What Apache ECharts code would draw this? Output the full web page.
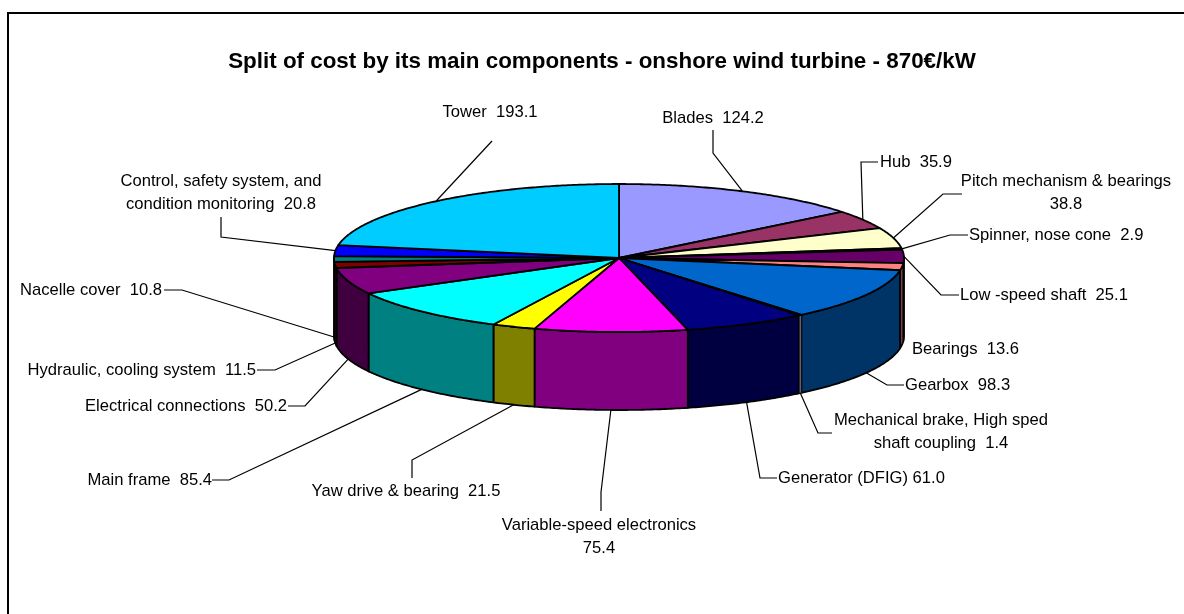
<!DOCTYPE html>
<html>
<head>
<meta charset="utf-8">
<script src="https://cdn.jsdelivr.net/npm/echarts@6/dist/echarts.min.js"></script>
<style>html,body{margin:0;padding:0;background:#fff}#c{width:1184px;height:614px}</style>
</head>
<body>
<div id="c"></div>
<script>
// ---- data ----
const titleText = 'Split of cost by its main components - onshore wind turbine - 870€/kW';
const names = ['Blades','Hub','Pitch mechanism & bearings','Spinner, nose cone','Low -speed shaft','Bearings','Gearbox','Mechanical brake, High sped\nshaft coupling','Generator (DFIG)','Variable-speed electronics','Yaw drive & bearing','Main frame','Electrical connections','Hydraulic, cooling system','Nacelle cover','Control, safety system, and\ncondition monitoring','Tower'];
const values = [124.2,35.9,38.8,2.9,25.1,13.6,98.3,1.4,61.0,75.4,21.5,85.4,50.2,11.5,10.8,20.8,193.1];
const separators = ['  ','  ','\n','  ','  ','  ','  ','  ',' ','\n','  ','  ','  ','  ','  ','  ','  '];
// ---- style ----
const topColors = ['#9999FF','#993366','#FFFFCC','#CCFFFF','#660066','#FF8080','#0066CC','#CCCCFF','#000080','#FF00FF','#FFFF00','#00FFFF','#800080','#800000','#008080','#0000FF','#00CCFF'];
const wallColors = ['#4D4D80','#4D1A33','#808066','#668080','#330033','#804040','#003366','#666680','#000040','#800080','#808000','#008080','#400040','#400000','#004040','#000080','#006680'];
// ---- layout of the pie and of the labels (not data) ----
const cx = 619, cy = 258, rx = 285, ry = 74, depth = 78;
const FONT = '16.6px "Liberation Sans", Arial, sans-serif';
// x, y, align, leader waypoints from label to the rim
const labelLayout = [
  {x:713,y:118,a:'center',way:[[713,130],[713,153]]},
  {x:880,y:162,a:'left',way:[[878,162],[861,162]]},
  {x:1066,y:193,a:'center',way:[[962,194],[943,194]]},
  {x:969,y:235,a:'left',way:[[968,235],[950,235]]},
  {x:960,y:295,a:'left',way:[[959,295],[941,295]]},
  {x:912,y:349,a:'left',way:null},
  {x:905,y:385,a:'left',way:[[904,385],[887,385]]},
  {x:941,y:432,a:'center',way:[[832,433],[818,433]]},
  {x:778,y:478,a:'left',way:[[777,478],[760,478]]},
  {x:599,y:537,a:'center',way:[[601,511],[601,492]]},
  {x:406,y:491,a:'center',way:[[412,478],[412,460]]},
  {x:212,y:480,a:'right',way:[[212,480],[229,480]]},
  {x:287,y:406,a:'right',way:[[288,406],[305,406]]},
  {x:256,y:370,a:'right',way:[[257,370],[275,370]]},
  {x:162,y:290,a:'right',way:[[164,290],[182,290]]},
  {x:221,y:193,a:'center',way:[[221,217],[221,237]]},
  {x:490,y:112,a:'center',way:[[492,141]]}
];

const total = values.reduce((a, b) => a + b, 0);
const cum = [];
values.reduce((a, v, i) => { cum[i] = a; return a + v; }, 0);
const startA = i => cum[i] / total * 2 * Math.PI;
const endA = i => (cum[i] + values[i]) / total * 2 * Math.PI;
const pt = (t, dy) => [cx + rx * Math.sin(t), cy - ry * Math.cos(t) + (dy || 0)];
function arc(a, b, dy) {
  const n = Math.max(2, Math.ceil((b - a) / 0.01)), out = [];
  for (let k = 0; k <= n; k++) out.push(pt(a + (b - a) * k / n, dy));
  return out;
}

function renderWall(params) {
  const i = params.dataIndex;
  const a = Math.max(startA(i), Math.PI / 2), b = Math.min(endA(i), Math.PI * 1.5);
  if (b <= a) return { type: 'group', children: [] };
  const pts = arc(a, b, 0).concat(arc(a, b, depth).reverse());
  const thin = (b - a) < 0.02;
  return { type: 'polygon', z2: thin ? 5 : 1, shape: { points: pts }, style: { fill: wallColors[i], stroke: '#000', lineWidth: thin ? 0.7 : 1.8, lineJoin: 'round' } };
}
function renderTop(params) {
  const i = params.dataIndex;
  const pts = [[cx, cy]].concat(arc(startA(i), endA(i), 0));
  return { type: 'polygon', shape: { points: pts }, style: { fill: topColors[i], stroke: '#000', lineWidth: 1.8, lineJoin: 'round' } };
}
function renderLabel(params) {
  const i = params.dataIndex, L = labelLayout[i];
  const children = [{
    type: 'text',
    style: { text: names[i] + separators[i] + values[i].toFixed(1), x: L.x, y: L.y, align: L.a, verticalAlign: 'middle', font: FONT, fill: '#000', lineHeight: 23 }
  }];
  if (L.way) {
    const mid = (startA(i) + endA(i)) / 2;
    const front = mid > Math.PI / 2 && mid < Math.PI * 1.5;
    children.push({
      type: 'polyline',
      shape: { points: L.way.concat([pt(mid, front ? depth : 0)]) },
      style: { fill: 'none', stroke: '#000', lineWidth: 1.2 }
    });
  }
  return { type: 'group', children };
}

const chart = echarts.init(document.getElementById('c'), null, { renderer: 'canvas' });
chart.setOption({
  animation: false,
  backgroundColor: '#fff',
  title: { text: titleText, left: 597, top: 46, textAlign: 'center', textStyle: { color: '#000', fontWeight: 'bold', fontSize: 22.4, fontFamily: '"Liberation Sans", Arial, sans-serif' } },
  graphic: [{ type: 'rect', silent: true, z: -1, shape: { x: 8, y: 13, width: 1300, height: 800 }, style: { fill: '#fff', stroke: '#000', lineWidth: 2 } }],
  series: [
    { type: 'custom', name: 'walls', coordinateSystem: 'none', data: values, renderItem: renderWall, z: 2, silent: true },
    { type: 'custom', name: 'tops', coordinateSystem: 'none', data: values, renderItem: renderTop, z: 3, silent: true },
    { type: 'custom', name: 'labels', coordinateSystem: 'none', data: values, renderItem: renderLabel, z: 1, silent: true }
  ]
});
</script>
</body>
</html>
